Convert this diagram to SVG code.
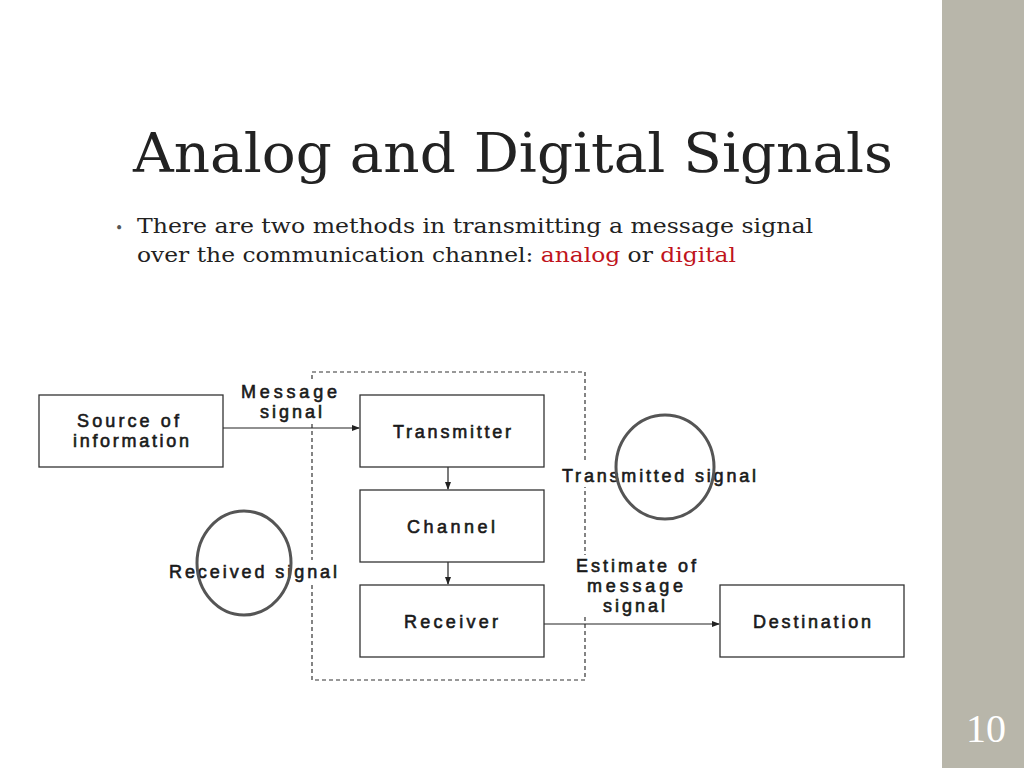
<svg xmlns="http://www.w3.org/2000/svg" width="1024" height="768" viewBox="0 0 1024 768">
<defs>
<style>
.box{fill:#fff;stroke:#333;stroke-width:1.3}
.lbl{font-family:"Liberation Sans",Arial,sans-serif;font-size:18px;fill:#1a1a1a;stroke:#1a1a1a;stroke-width:0.6;text-anchor:middle}
.ser{font-family:"DejaVu Serif","Liberation Serif",serif}
.line{stroke:#222;stroke-width:1.2;fill:none}
.ring{fill:none;stroke:#555;stroke-width:3}
</style>
<marker id="ah" markerWidth="8" markerHeight="8" refX="7" refY="4" orient="auto" markerUnits="userSpaceOnUse"><path d="M0,1 L8,4 L0,7 Z" fill="#222"/></marker>
</defs>
<rect width="1024" height="768" fill="#fff"/>
<rect x="942" y="0" width="82" height="768" fill="#b8b6aa"/>
<text x="986" y="742" font-family="Liberation Serif,serif" font-size="40" fill="#fff" text-anchor="middle">10</text>
<text x="133" y="172" class="ser" font-size="54" fill="#222" textLength="760" lengthAdjust="spacingAndGlyphs">Analog and Digital Signals</text>
<text x="115" y="233" class="ser" font-size="14" fill="#555">•</text>
<text x="137" y="233" class="ser" font-size="20" fill="#222" textLength="676" lengthAdjust="spacingAndGlyphs">There are two methods in transmitting a message signal</text>
<text x="137" y="262" class="ser" font-size="20" fill="#222" textLength="599" lengthAdjust="spacingAndGlyphs">over the communication channel: <tspan fill="#c0141c">analog</tspan> or <tspan fill="#c0141c">digital</tspan></text>
<rect x="312" y="372" width="273" height="308" fill="none" stroke="#333" stroke-width="1.2" stroke-dasharray="4,3"/>
<g id="connectors">
<line class="line" x1="223" y1="428" x2="359" y2="428" marker-end="url(#ah)"/>
<line class="line" x1="448" y1="467" x2="448" y2="489" marker-end="url(#ah)"/>
<line class="line" x1="448" y1="562" x2="448" y2="584" marker-end="url(#ah)"/>
<line class="line" x1="544" y1="624" x2="719" y2="624" marker-end="url(#ah)"/>
</g>
<g id="source"><rect class="box" x="39" y="395" width="184" height="72"/><text class="lbl" x="128" y="427" textLength="102">Source of</text><text class="lbl" x="131" y="447" textLength="116">information</text></g>
<g id="transmitter"><rect class="box" x="360" y="395" width="184" height="72"/><text class="lbl" x="452" y="438" textLength="118">Transmitter</text></g>
<g id="channel"><rect class="box" x="360" y="490" width="184" height="72"/><text class="lbl" x="451" y="533" textLength="88">Channel</text></g>
<g id="receiver"><rect class="box" x="360" y="585" width="184" height="72"/><text class="lbl" x="451" y="628" textLength="94">Receiver</text></g>
<g id="destination"><rect class="box" x="720" y="585" width="184" height="72"/><text class="lbl" x="812" y="628" textLength="118">Destination</text></g>
<g id="labels">
<rect x="236" y="382" width="106" height="42" fill="#fff"/>
<text class="lbl" x="289" y="398" textLength="96">Message</text><text class="lbl" x="291" y="418" textLength="62">signal</text>
<rect x="560" y="463" width="198" height="24" fill="#fff"/>
<text class="lbl" x="659" y="482" textLength="194">Transmitted signal</text>
<rect x="572" y="555" width="130" height="62" fill="#fff"/>
<text class="lbl" x="636" y="572" textLength="120">Estimate of</text><text class="lbl" x="635" y="592" textLength="96">message</text><text class="lbl" x="634" y="612" textLength="62">signal</text>
<rect x="166" y="560" width="174" height="24" fill="#fff"/>
<text class="lbl" x="253" y="578" textLength="168">Received signal</text>
</g>
<ellipse class="ring" cx="665" cy="467" rx="49" ry="52"/>
<ellipse class="ring" cx="244" cy="563" rx="47" ry="52"/>
</svg>
